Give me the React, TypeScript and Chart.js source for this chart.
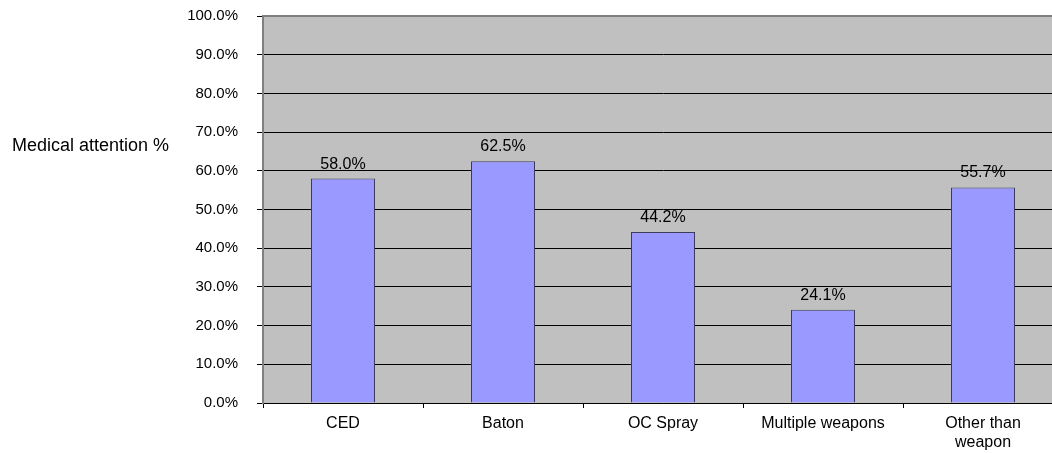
import React, { useEffect, useRef } from "react";
import { Chart, registerables } from "chart.js";

Chart.register(...registerables);

const categories: (string | string[])[] = ["CED", "Baton", "OC Spray", "Multiple weapons", ["Other than", "weapon"]];
const values: number[] = [58.0, 62.5, 44.2, 24.1, 55.7];
const yTitle = "Medical attention %";
const FONT = "'Liberation Sans', Arial, sans-serif";

const customPlugin = {
  id: "customDraw",
  beforeDraw(chart: any) {
    const { ctx, chartArea } = chart;
    ctx.save();
    ctx.fillStyle = "#C0C0C0";
    ctx.fillRect(chartArea.left, chartArea.top, chartArea.right - chartArea.left, chartArea.bottom - chartArea.top);
    ctx.restore();
  },
  afterDatasetsDraw(chart: any) {
    const { ctx } = chart;
    const meta = chart.getDatasetMeta(0);
    ctx.save();
    ctx.fillStyle = "#000";
    ctx.font = `16px ${FONT}`;
    ctx.textAlign = "center";
    ctx.textBaseline = "alphabetic";
    meta.data.forEach((bar: any, i: number) => {
      ctx.fillText(values[i].toFixed(1) + "%", bar.x, bar.y - 10);
    });
    ctx.restore();
  },
  afterDraw(chart: any) {
    const { ctx, chartArea } = chart;
    ctx.save();
    ctx.strokeStyle = "#808080";
    ctx.lineWidth = 2;
    ctx.beginPath();
    ctx.moveTo(chartArea.left, chartArea.top);
    ctx.lineTo(chartArea.right, chartArea.top);
    ctx.stroke();
    ctx.fillStyle = "#000";
    ctx.font = `18px ${FONT}`;
    ctx.textAlign = "left";
    ctx.textBaseline = "alphabetic";
    ctx.fillText(yTitle, 12, 151);
    ctx.restore();
  },
};

export default function App() {
  const ref = useRef<HTMLCanvasElement | null>(null);
  useEffect(() => {
    if (!ref.current) return;
    const chart = new Chart(ref.current, {
      type: "bar",
      data: {
        labels: categories,
        datasets: [
          {
            data: values,
            backgroundColor: "#9999FF",
            borderColor: "#3C3C5A",
            borderWidth: 1,
            barPercentage: 0.4,
            categoryPercentage: 1,
          },
        ],
      },
      options: {
        responsive: false,
        animation: false,
        layout: { padding: { top: 16, right: 12, left: 0, bottom: 0 } },
        plugins: { legend: { display: false }, tooltip: { enabled: false } },
        scales: {
          x: {
            grid: { display: true, offset: true, drawOnChartArea: false, color: "#000", tickLength: 5 },
            border: { color: "#000", width: 1 },
            ticks: { color: "#000", font: { family: FONT, size: 16, lineHeight: 1.13 }, padding: 7, maxRotation: 0, autoSkip: false },
            afterFit(scale: any) {
              scale.height = 50;
              scale.paddingLeft = 0;
              scale.paddingRight = 0;
            },
          },
          y: {
            min: 0,
            max: 100,
            ticks: {
              stepSize: 10,
              color: "#000",
              font: { family: FONT, size: 15 },
              padding: 19,
              callback: (v: any) => Number(v).toFixed(1) + "%",
            },
            grid: { color: "#000", tickColor: "#000", tickLength: 6, lineWidth: 1 },
            border: { color: "#808080", width: 2 },
            afterFit(scale: any) {
              scale.width = 263;
              scale.paddingTop = 0;
              scale.paddingBottom = 0;
            },
          },
        },
      },
      plugins: [customPlugin],
    });
    return () => chart.destroy();
  }, []);
  return (
    <div style={{ position: "fixed", left: 0, top: 0, width: 1052, height: 453, overflow: "hidden", background: "#fff" }}>
      <canvas ref={ref} width={1075} height={453} style={{ display: "block" }} />
    </div>
  );
}
